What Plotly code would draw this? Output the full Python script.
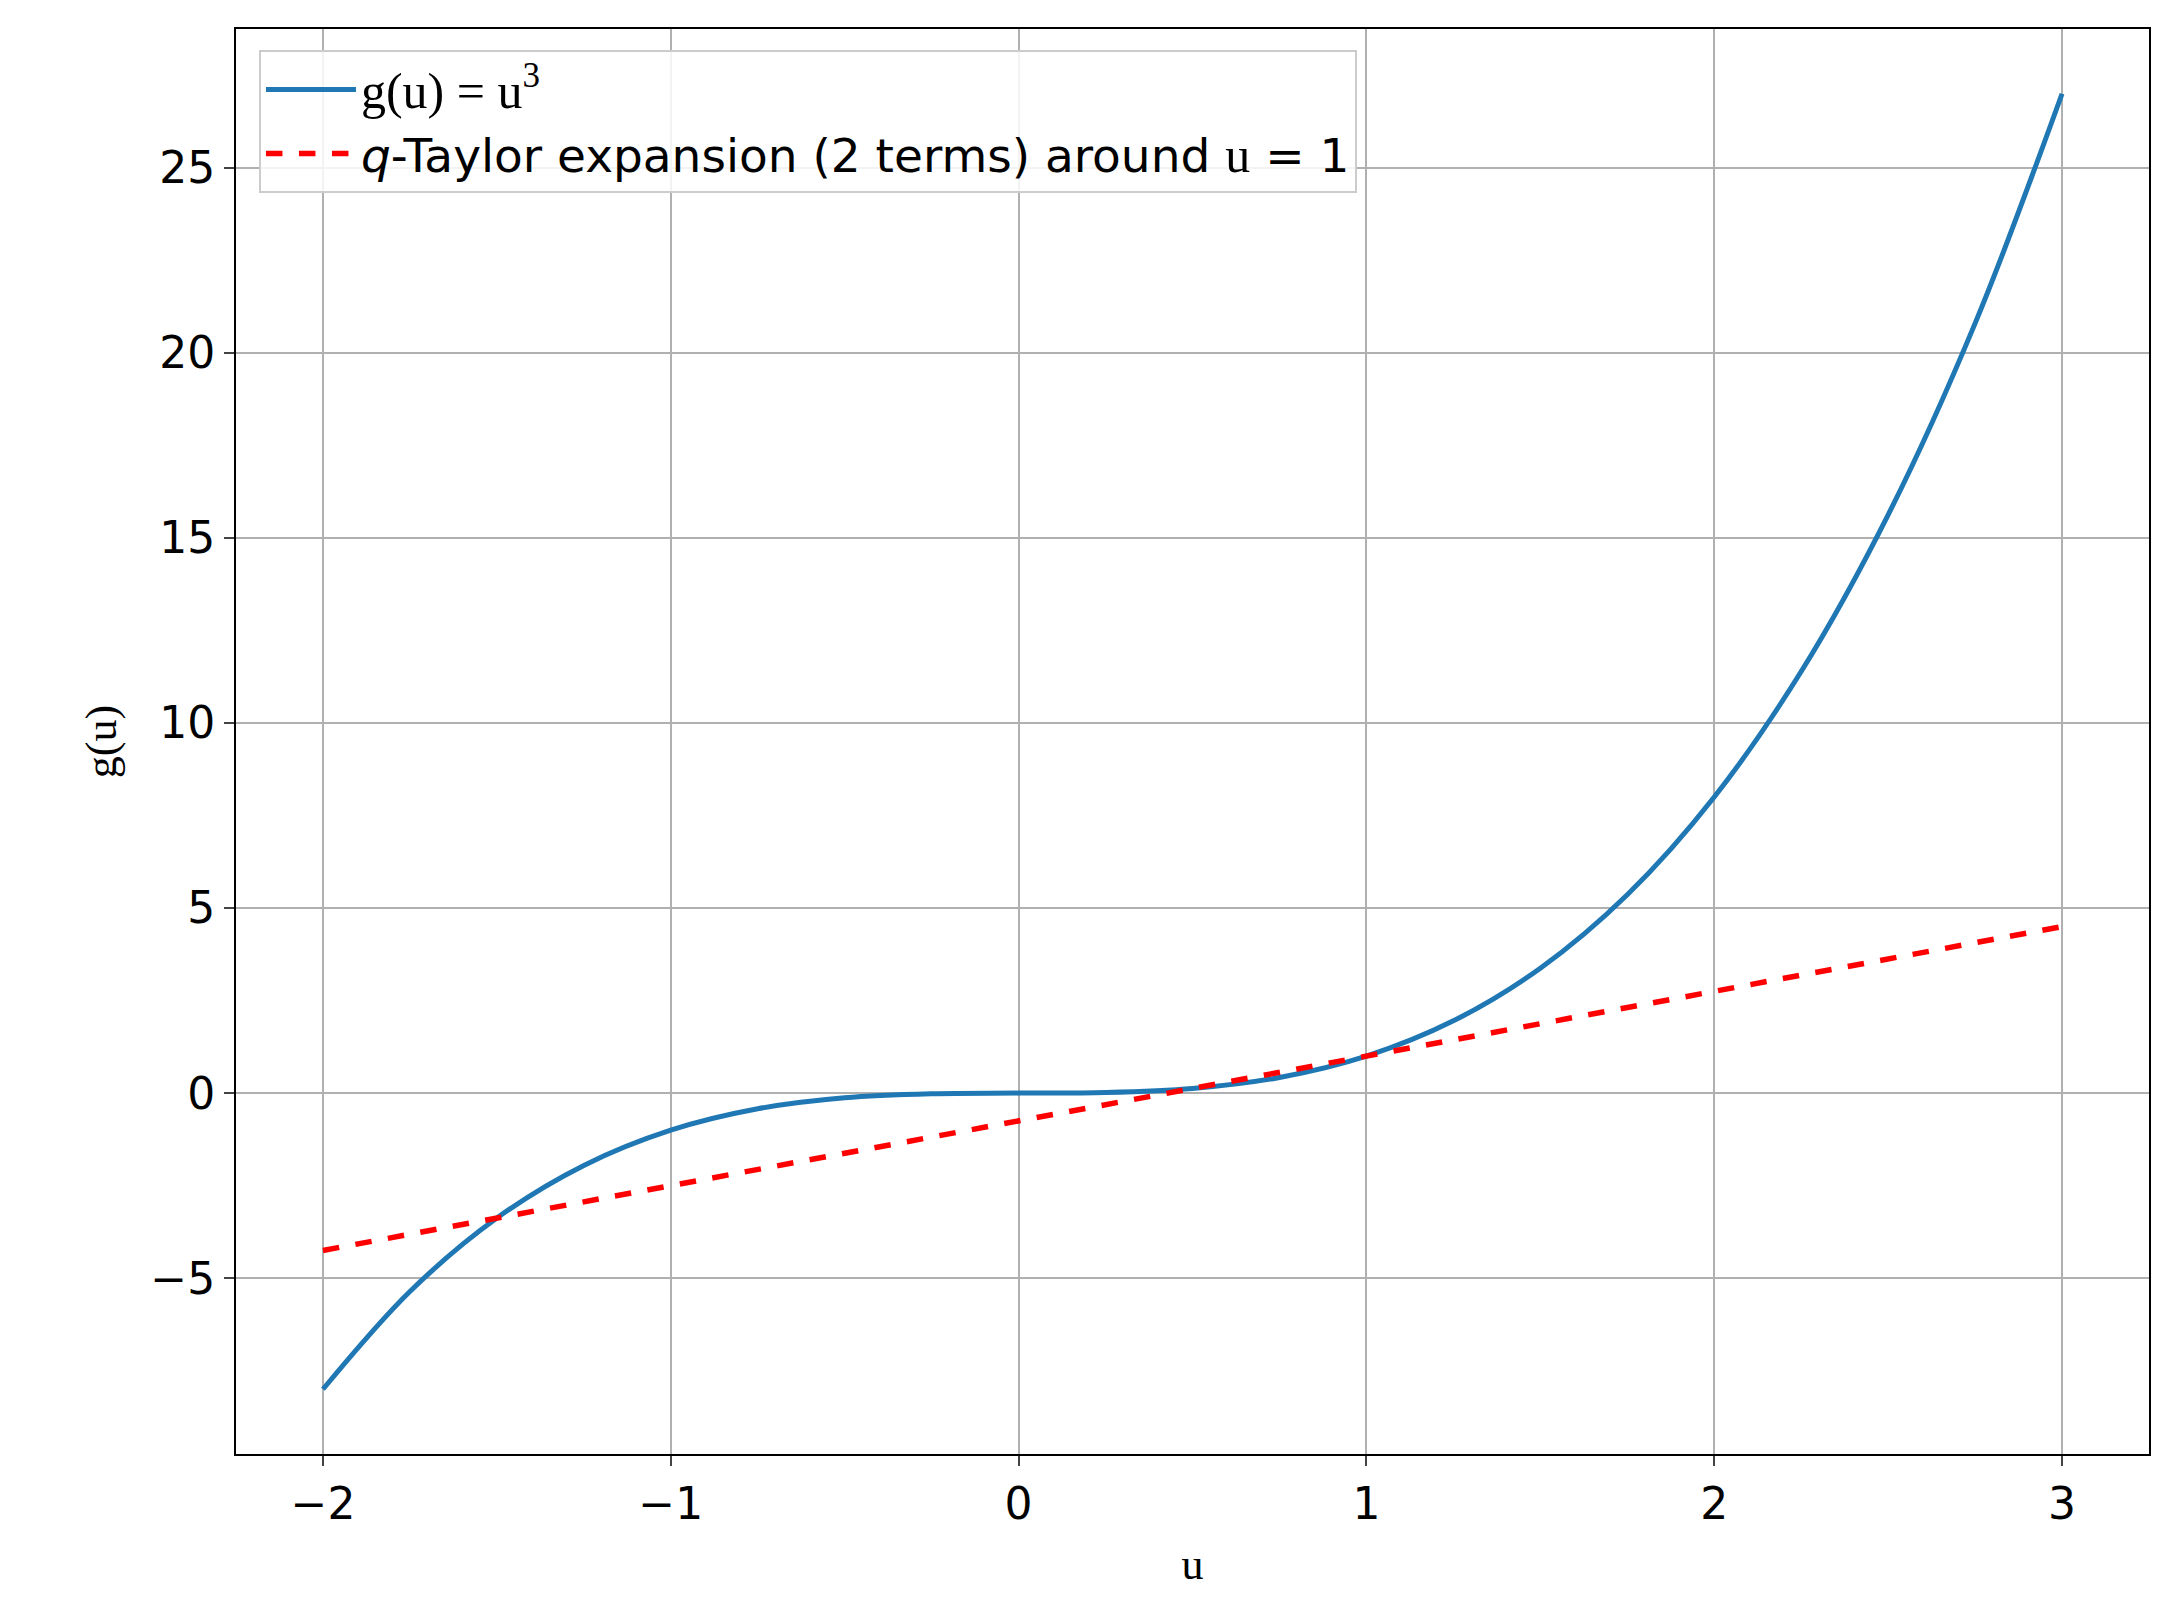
import plotly.graph_objects as go

u_vals = [-2.0, -1.75, -1.5, -1.25, -1.0, -0.75, -0.5, -0.25, 0.0, 0.25, 0.5, 0.75, 1.0,
          1.25, 1.5, 1.75, 2.0, 2.25, 2.5, 2.75, 3.0]
g_vals = [-8.0, -5.359, -3.375, -1.953, -1.0, -0.422, -0.125, -0.016, 0.0, 0.016, 0.125, 0.422, 1.0,
          1.953, 3.375, 5.359, 8.0, 11.391, 15.625, 20.797, 27.0]
taylor_u = [-2.0, 1.0, 3.0]
taylor_g = [-4.25, 1.0, 4.5]
x_ticks = [-2, -1, 0, 1, 2, 3]
y_ticks = [-5, 0, 5, 10, 15, 20, 25]

SERIF = "Liberation Serif"
FS = 44

fig = go.Figure()
fig.add_trace(go.Scatter(x=u_vals, y=g_vals, mode="lines", line=dict(color="#1f77b4", width=5, shape="spline"),
                         name=f"<span style='font-family:{SERIF};font-size:50px'>g(u) = u<sup>3</sup></span>"))
fig.add_trace(go.Scatter(x=taylor_u, y=taylor_g, mode="lines", line=dict(color="red", width=5.5, dash="dash"),
                         name=f"<i>q</i>-Taylor expansion (2 terms) around <span style='font-family:{SERIF};font-size:50px'>u</span> = 1"))

ax = dict(showgrid=True, gridcolor="#b0b0b0", gridwidth=2, zeroline=False, showline=True, mirror=True,
          linecolor="black", linewidth=2, ticks="outside", ticklen=10, tickwidth=2,
          tickfont=dict(size=FS, color="black", family="DejaVu Sans"))
fig.update_xaxes(**ax, range=[-2.25, 3.25], tickvals=x_ticks, ticktext=["−2", "−1", "0", "1", "2", "3"],
                 title=dict(text="u", font=dict(family=SERIF, size=FS, color="black"), standoff=20))
fig.update_yaxes(**ax, range=[-9.75, 28.75], tickvals=y_ticks, ticktext=["−5", "0", "5", "10", "15", "20", "25"],
                 title=dict(text="g(u)", font=dict(family=SERIF, size=FS, color="black"), standoff=20))
fig.update_layout(width=2161, height=1623, plot_bgcolor="white", paper_bgcolor="white",
                  margin=dict(l=228, r=20, t=21, b=177),
                  font=dict(family="DejaVu Sans", size=FS, color="black"),
                  legend=dict(x=0.012, y=0.985, xanchor="left", yanchor="top", bgcolor="rgba(255,255,255,0.85)",
                              bordercolor="#cccccc", borderwidth=2, font=dict(size=47), itemwidth=90,
                              tracegroupgap=30))
fig.write_html("out.html")
